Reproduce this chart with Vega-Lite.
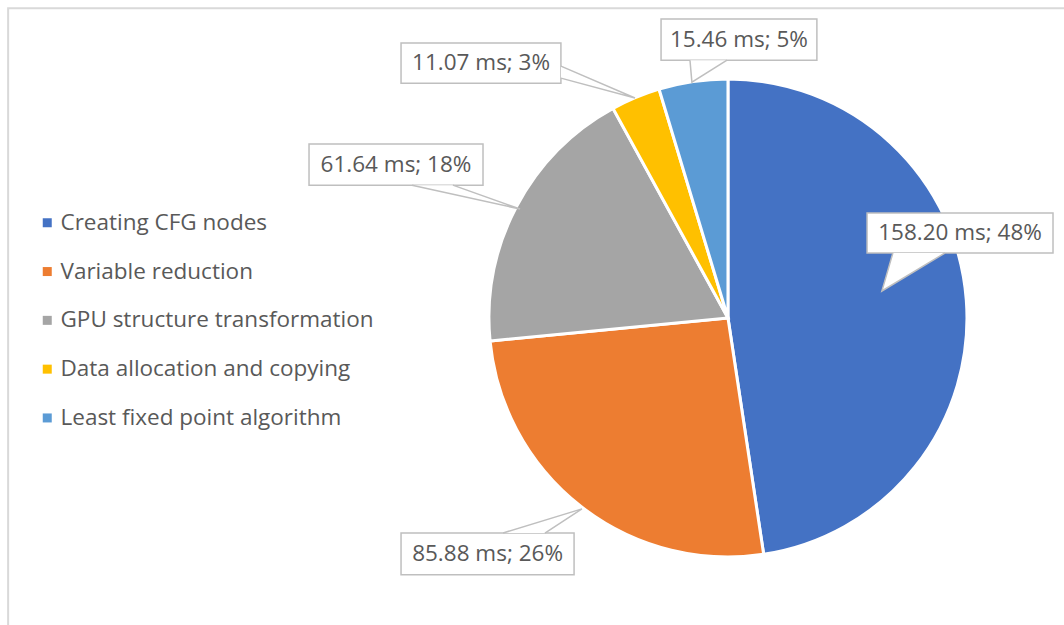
{
  "$schema": "https://vega.github.io/schema/vega-lite/v6.json",
  "width": 1064,
  "height": 625,
  "autosize": "none",
  "padding": 0,
  "background": "white",
  "config": {"view": {"stroke": null}, "font": "Open Sans"},
  "datasets": {
    "frame": [{"x1": -3.012, "x2": 2.0, "y1": 1.296, "y2": -2.0}],
    "slices": [
      {"idx": 1, "task": "Creating CFG nodes", "ms": 158.20},
      {"idx": 2, "task": "Variable reduction", "ms": 85.88},
      {"idx": 3, "task": "GPU structure transformation", "ms": 61.64},
      {"idx": 4, "task": "Data allocation and copying", "ms": 11.07},
      {"idx": 5, "task": "Least fixed point algorithm", "ms": 15.46}
    ],
    "callouts": [
      {"id": "a", "label": "158.20 ms; 48%", "x1": 0.582, "x2": 1.360, "y1": 0.272, "y2": 0.439, "tx": 0.971, "ty": 0.356},
      {"id": "b", "label": "85.88 ms; 26%", "x1": -1.368, "x2": -0.644, "y1": -1.075, "y2": -0.900, "tx": -1.006, "ty": -0.987},
      {"id": "c", "label": "61.64 ms; 18%", "x1": -1.753, "x2": -1.025, "y1": 0.556, "y2": 0.728, "tx": -1.389, "ty": 0.642},
      {"id": "d", "label": "11.07 ms; 3%", "x1": -1.368, "x2": -0.699, "y1": 0.983, "y2": 1.151, "tx": -1.033, "ty": 1.067},
      {"id": "e", "label": "15.46 ms; 5%", "x1": -0.280, "x2": 0.372, "y1": 1.079, "y2": 1.251, "tx": 0.046, "ty": 1.163}
    ],
    "tails": [
      {"id": "a", "pt": 1, "x": 0.690, "y": 0.272},
      {"id": "a", "pt": 2, "x": 0.644, "y": 0.113},
      {"id": "a", "pt": 3, "x": 0.908, "y": 0.272},
      {"id": "b", "pt": 1, "x": -0.941, "y": -0.900},
      {"id": "b", "pt": 2, "x": -0.611, "y": -0.799},
      {"id": "b", "pt": 3, "x": -0.766, "y": -0.900},
      {"id": "c", "pt": 1, "x": -1.322, "y": 0.556},
      {"id": "c", "pt": 2, "x": -0.870, "y": 0.456},
      {"id": "c", "pt": 3, "x": -1.151, "y": 0.556},
      {"id": "d", "pt": 1, "x": -0.699, "y": 1.054},
      {"id": "d", "pt": 2, "x": -0.389, "y": 0.921},
      {"id": "d", "pt": 3, "x": -0.699, "y": 1.004},
      {"id": "e", "pt": 1, "x": -0.159, "y": 1.079},
      {"id": "e", "pt": 2, "x": -0.151, "y": 0.987},
      {"id": "e", "pt": 3, "x": -0.004, "y": 1.079}
    ]
  },
  "layer": [
    {
      "data": {"name": "frame"},
      "mark": {"type": "rect", "fill": null, "filled": false, "stroke": "#D9D9D9", "strokeWidth": 2},
      "encoding": {
        "x": {"field": "x1", "type": "quantitative", "scale": {"domain": [-3.046, 1.406], "nice": false, "zero": false}, "axis": null},
        "x2": {"field": "x2"},
        "y": {"field": "y1", "type": "quantitative", "scale": {"domain": [-1.285, 1.331], "nice": false, "zero": false}, "axis": null},
        "y2": {"field": "y2"}
      }
    },
    {
      "data": {"name": "slices"},
      "mark": {"type": "arc", "outerRadius": 239, "stroke": "white", "strokeWidth": 3},
      "encoding": {
        "theta": {"field": "ms", "type": "quantitative", "stack": true},
        "order": {"field": "idx", "type": "quantitative"},
        "color": {
          "field": "task", "type": "nominal",
          "scale": {
            "domain": ["Creating CFG nodes", "Variable reduction", "GPU structure transformation", "Data allocation and copying", "Least fixed point algorithm"],
            "range": ["#4472C4", "#ED7D31", "#A5A5A5", "#FFC000", "#5B9BD5"]
          },
          "legend": {
            "orient": "none", "legendX": 36, "legendY": 211.5, "title": null,
            "symbolType": "square", "symbolSize": 81, "symbolStrokeWidth": 0,
            "labelFontSize": 22.5, "labelColor": "#595959", "labelFont": "Open Sans", "labelLimit": 500,
            "rowPadding": 25.8, "padding": 0, "labelOffset": 2, "offset": 0
          }
        },
        "x": {"datum": 0, "type": "quantitative", "scale": {"domain": [-3.046, 1.406], "nice": false, "zero": false}, "axis": null},
        "y": {"datum": 0, "type": "quantitative", "scale": {"domain": [-1.285, 1.331], "nice": false, "zero": false}, "axis": null}
      }
    },
    {
      "data": {"name": "callouts"},
      "mark": {"type": "rect", "fill": "white", "stroke": "#BFBFBF", "strokeWidth": 1.5},
      "encoding": {
        "x": {"field": "x1", "type": "quantitative", "scale": {"domain": [-3.046, 1.406], "nice": false, "zero": false}, "axis": null},
        "x2": {"field": "x2"},
        "y": {"field": "y1", "type": "quantitative", "scale": {"domain": [-1.285, 1.331], "nice": false, "zero": false}, "axis": null},
        "y2": {"field": "y2"}
      }
    },
    {
      "data": {"name": "tails"},
      "mark": {"type": "line", "fill": "white", "stroke": "#BFBFBF", "strokeWidth": 1.5},
      "encoding": {
        "x": {"field": "x", "type": "quantitative", "scale": {"domain": [-3.046, 1.406], "nice": false, "zero": false}, "axis": null},
        "y": {"field": "y", "type": "quantitative", "scale": {"domain": [-1.285, 1.331], "nice": false, "zero": false}, "axis": null},
        "detail": {"field": "id", "type": "nominal"},
        "order": {"field": "pt", "type": "quantitative"}
      }
    },
    {
      "data": {"name": "callouts"},
      "mark": {"type": "text", "fontSize": 22.5, "color": "#595959", "font": "Open Sans", "align": "center", "baseline": "middle"},
      "encoding": {
        "x": {"field": "tx", "type": "quantitative", "scale": {"domain": [-3.046, 1.406], "nice": false, "zero": false}, "axis": null},
        "y": {"field": "ty", "type": "quantitative", "scale": {"domain": [-1.285, 1.331], "nice": false, "zero": false}, "axis": null},
        "text": {"field": "label", "type": "nominal"}
      }
    }
  ]
}
